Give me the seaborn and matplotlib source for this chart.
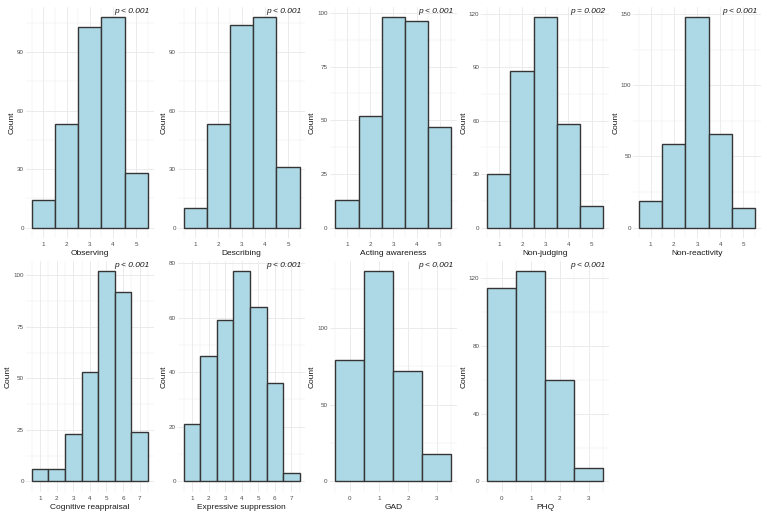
import matplotlib.pyplot as plt
import seaborn as sns
from matplotlib.ticker import MultipleLocator

# --- Style -------------------------------------------------------------------
sns.set_style("white")
plt.rcParams['font.family'] = ['Liberation Sans', 'DejaVu Sans']

FILL = '#ADD8E6'
EDGE = '#353535'
GRID = '#EBEBEB'

# --- Data (counts per score level) -------------------------------------------
observing_levels = [1, 2, 3, 4, 5]
observing_counts = [14, 53, 103, 108, 28]

describing_levels = [1, 2, 3, 4, 5]
describing_counts = [10, 53, 104, 108, 31]

acting_levels = [1, 2, 3, 4, 5]
acting_counts = [13, 52, 98, 96, 47]

nonjudging_levels = [1, 2, 3, 4, 5]
nonjudging_counts = [30, 88, 118, 58, 12]

nonreact_levels = [1, 2, 3, 4, 5]
nonreact_counts = [19, 59, 148, 66, 14]

reappraisal_levels = [1, 2, 3, 4, 5, 6, 7]
reappraisal_counts = [6, 6, 23, 53, 102, 92, 24]

suppression_levels = [1, 2, 3, 4, 5, 6, 7]
suppression_counts = [21, 46, 59, 77, 64, 36, 3]

gad_levels = [0, 1, 2, 3]
gad_counts = [79, 137, 72, 18]

phq_levels = [0, 1, 2, 3]
phq_counts = [114, 124, 60, 8]

titles = ["Observing", "Describing", "Acting awareness", "Non-judging",
          "Non-reactivity", "Cognitive reappraisal", "Expressive suppression",
          "GAD", "PHQ"]
p_labels = ["p < 0.001", "p < 0.001", "p < 0.001", "p = 0.002", "p < 0.001",
            "p < 0.001", "p < 0.001", "p < 0.001", "p < 0.001"]
y_steps = [30, 30, 25, 30, 50, 25, 20, 50, 40]

panels = [
    (observing_levels, observing_counts),
    (describing_levels, describing_counts),
    (acting_levels, acting_counts),
    (nonjudging_levels, nonjudging_counts),
    (nonreact_levels, nonreact_counts),
    (reappraisal_levels, reappraisal_counts),
    (suppression_levels, suppression_counts),
    (gad_levels, gad_counts),
    (phq_levels, phq_counts),
]

# --- Figure ------------------------------------------------------------------
fig, axes = plt.subplots(2, 5, figsize=(7.67, 5.13), dpi=100)
fig.subplots_adjust(left=0.034, right=0.992, top=0.987, bottom=0.041,
                    wspace=0.19, hspace=0.097)
axes = axes.ravel()

for i, ((levels, counts), title, p_txt, step) in enumerate(
        zip(panels, titles, p_labels, y_steps)):
    ax = axes[i]
    sns.histplot(x=levels, weights=counts, discrete=True, ax=ax,
                 color=FILL, edgecolor=EDGE, linewidth=1.0, alpha=1, zorder=2)

    # ggplot-like expansion
    lo, hi = min(levels) - 0.5, max(levels) + 0.5
    pad = 0.05 * (hi - lo)
    ax.set_xlim(lo - pad, hi + pad)
    ymax = max(counts)
    ax.set_ylim(-0.05 * ymax, 1.05 * ymax)

    ax.set_xticks(levels)
    ax.xaxis.set_minor_locator(MultipleLocator(0.5))
    ax.yaxis.set_major_locator(MultipleLocator(step))
    ax.yaxis.set_minor_locator(MultipleLocator(step / 2))
    ax.grid(which='major', color=GRID, linewidth=0.7, zorder=0)
    ax.grid(which='minor', color=GRID, linewidth=0.35, zorder=0)
    ax.set_axisbelow(True)

    for s in ax.spines.values():
        s.set_visible(False)
    ax.tick_params(axis='x', which='both', length=0, labelsize=4.5,
                   colors='#4D4D4D', pad=3)
    ax.tick_params(axis='y', which='both', length=0, labelsize=4.5,
                   colors='#4D4D4D', pad=1.5)

    ax.set_xlabel(title, fontsize=6, color='#1a1a1a', labelpad=2)
    ax.set_ylabel("Count", fontsize=6, color='#1a1a1a', labelpad=1)

    ax.text(0.97, 0.995, p_txt, transform=ax.transAxes, ha='right', va='top',
            fontsize=6, style='italic', color='#1a1a1a')

axes[9].axis('off')

plt.savefig('out.png', dpi=100)
plt.close()
